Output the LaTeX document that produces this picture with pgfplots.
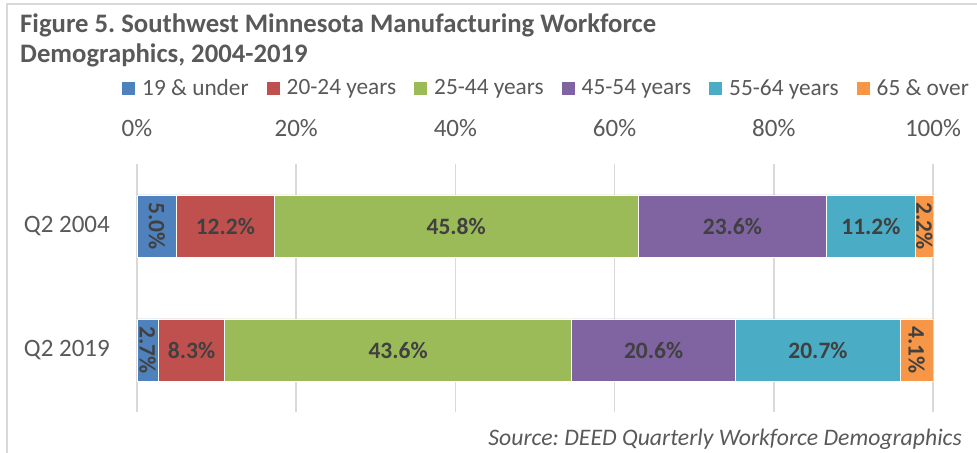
\documentclass[border=0pt]{standalone}
\usepackage{pgfplots}
\pgfplotsset{compat=1.18}
\usepackage{fontspec}
\setmainfont{Carlito}
\frenchspacing
\definecolor{cblue}{HTML}{4F81BD}
\definecolor{cred}{HTML}{C0504D}
\definecolor{cgreen}{HTML}{9BBB59}
\definecolor{cpurple}{HTML}{8064A2}
\definecolor{cteal}{HTML}{4BACC6}
\definecolor{corange}{HTML}{F79646}
\definecolor{gridgray}{HTML}{D9D9D9}
\definecolor{textgray}{HTML}{595959}
\definecolor{labelgray}{HTML}{404040}
\pgfplotstableread{
y v1 v2 v3 v4 v5 v6
1 5.0 12.2 45.8 23.6 11.2 2.2
0 2.7 8.3 43.6 20.6 20.7 4.1
}\datatable
\begin{document}
\begin{tikzpicture}
\useasboundingbox (0bp,0bp) rectangle (977bp,453bp);
\draw[color=gridgray, line width=1.5bp] (7bp,0bp) -- (7bp,449bp) -- (977bp,449bp);
\node[anchor=base west, inner sep=0pt, text=textgray, font=\fontsize{26.7bp}{31bp}\selectfont\bfseries] at (20bp,420bp) {Figure 5. Southwest Minnesota Manufacturing Workforce};
\node[anchor=base west, inner sep=0pt, text=textgray, font=\fontsize{26.7bp}{31bp}\selectfont\bfseries] at (20bp,390bp) {Demographics, 2004-2019};
\node[anchor=base east, inner sep=0pt, text=textgray, font=\fontsize{23.7bp}{28bp}\selectfont\itshape] at (962bp,8bp) {Source: DEED Quarterly Workforce Demographics};
\begin{axis}[
  at={(137bp,41bp)}, anchor=south west,
  width=796bp, height=248bp, scale only axis,
  xbar stacked, bar width=62bp,
  xmin=0, xmax=100, ymin=-0.5, ymax=1.5,
  ytick={0,1}, yticklabels={Q2 2019, Q2 2004},
  xtick={0,20,...,100},
  xticklabel={\pgfmathprintnumber{\tick}\%},
  /pgf/number format/assume math mode=true,
  xticklabel pos=upper,
  axis line style={draw=none},
  major tick length=0pt,
  xmajorgrids, grid style={gridgray, line width=1.5bp},
  tick label style={font=\fontsize{25bp}{30bp}\selectfont, text=textgray, inner sep=0pt},
  xticklabel style={anchor=base, yshift=27bp},
  yticklabel style={anchor=east, xshift=-27bp},
  legend columns=6,
  legend image code/.code={\path[#1, draw=none] (0bp,-6.5bp) rectangle (13bp,6.5bp);},
  legend style={at={(-0.0188,1.306)}, anchor=west, draw=none, fill=none, inner sep=0pt,
    font=\fontsize{23.3bp}{28bp}\selectfont, text=textgray,
    nodes={inner sep=0pt},
    /tikz/every even column/.append style={column sep=18bp},
    /tikz/every odd column/.append style={column sep=7bp}},
  every axis plot/.append style={draw=white, line width=0.8bp},
]
\addplot[fill=cblue] table[x=v1, y=y] {\datatable};
\addplot[fill=cred] table[x=v2, y=y] {\datatable};
\addplot[fill=cgreen] table[x=v3, y=y] {\datatable};
\addplot[fill=cpurple] table[x=v4, y=y] {\datatable};
\addplot[fill=cteal] table[x=v5, y=y] {\datatable};
\addplot[fill=corange] table[x=v6, y=y] {\datatable};
\legend{19 \& under, 20-24 years, 25-44 years, 45-54 years, 55-64 years, 65 \& over}
\end{axis}
\begin{axis}[
  at={(137bp,41bp)}, anchor=south west,
  width=796bp, height=248bp, scale only axis,
  xmin=0, xmax=100, ymin=-0.5, ymax=1.5, hide axis, clip=false,
  /pgf/number format/assume math mode=true,
  nodes near coords={\pgfmathprintnumber[fixed,fixed zerofill,precision=1]{\pgfplotspointmeta}\%},
  point meta=explicit,
]
\addplot[only marks, mark=none, nodes near coords style={anchor=center, inner sep=0pt, font=\fontsize{23.5bp}{28bp}\selectfont\bfseries, text=labelgray}] table[x=x, y=y, meta=v] {
x y v
11.1 1 12.2
40.1 1 45.8
74.8 1 23.6
92.2 1 11.2
6.85 0 8.3
32.8 0 43.6
64.9 0 20.6
85.55 0 20.7
};
\addplot[only marks, mark=none, nodes near coords style={anchor=center, rotate=-90, inner sep=0pt, font=\fontsize{23.5bp}{28bp}\selectfont\bfseries, text=labelgray}] table[x=x, y=y, meta=v] {
x y v
2.5 1 5.0
98.9 1 2.2
1.35 0 2.7
97.95 0 4.1
};
\end{axis}
\end{tikzpicture}
\end{document}
